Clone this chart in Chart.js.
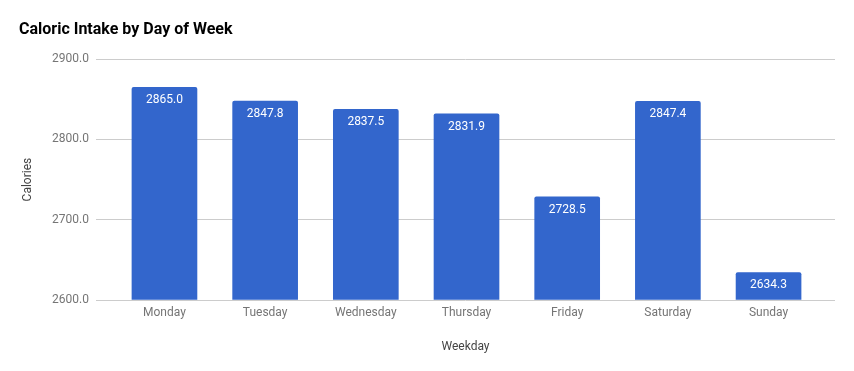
<!DOCTYPE html>
<html>
<head>
<meta charset="utf-8">
<script src="https://cdn.jsdelivr.net/npm/chart.js@4.4.1/dist/chart.umd.min.js"></script>
<style>
html,body{margin:0;padding:0;background:#fff;}
#wrap{width:854px;height:371px;position:relative;}
</style>
</head>
<body>
<div id="wrap"><canvas id="c" width="854" height="371"></canvas></div>
<script>
const categories = ["Monday","Tuesday","Wednesday","Thursday","Friday","Saturday","Sunday"];
const calories = [2865.0, 2847.8, 2837.5, 2831.9, 2728.5, 2847.4, 2634.3];
const yTicks = [2600, 2700, 2800, 2900];

const FONT = "Roboto";

const valueLabels = {
  id: 'valueLabels',
  afterDatasetsDraw(chart) {
    const ctx = chart.ctx;
    const meta = chart.getDatasetMeta(0);
    ctx.save();
    ctx.fillStyle = '#ffffff';
    ctx.font = '12px ' + FONT;
    ctx.textAlign = 'center';
    ctx.textBaseline = 'middle';
    meta.data.forEach((bar, i) => {
      ctx.fillText(calories[i].toFixed(1), bar.x, bar.y + 13);
    });
    ctx.restore();
  }
};

new Chart(document.getElementById('c'), {
  type: 'bar',
  data: {
    datasets: [{
      data: categories.map((c, i) => ({x: i, y: calories[i]})),
      backgroundColor: '#3366cc',
      borderRadius: 2,
      borderSkipped: 'bottom',
      barThickness: 65,
      base: 2600
    }]
  },
  options: {
    responsive: false,
    animation: false,
    devicePixelRatio: 1,
    layout: {padding: {left: 19, right: 19, top: 0, bottom: 0}},
    plugins: {
      legend: {display: false},
      tooltip: {enabled: false},
      title: {
        display: true,
        text: 'Caloric Intake by Day of Week',
        align: 'start',
        color: '#000000',
        font: {family: FONT, size: 16, weight: 'bold'},
        padding: {top: 20, bottom: 20}
      }
    },
    scales: {
      x: {
        type: 'linear',
        min: -0.68,
        max: 6.66,
        offset: false,
        grid: {display: false, drawTicks: false},
        border: {display: false},
        afterBuildTicks: s => { s.ticks = categories.map((c, i) => ({value: i})); },
        afterFit: s => { s.height = 71; },
        ticks: {
          padding: 6,
          color: '#757575',
          font: {family: FONT, size: 12},
          maxRotation: 0,
          autoSkip: false,
          callback: v => categories[v]
        },
        title: {
          display: true,
          text: 'Weekday',
          color: '#444444',
          font: {family: FONT, size: 12},
          padding: {top: 0, bottom: 17}
        }
      },
      y: {
        min: 2600,
        max: 2900,
        grid: {color: '#cccccc', drawTicks: false, lineWidth: 1},
        border: {display: false},
        afterBuildTicks: s => { s.ticks = yTicks.map(v => ({value: v})); },
        afterFit: s => { s.width = 77; },
        ticks: {
          padding: 7,
          color: '#757575',
          font: {family: FONT, size: 12},
          callback: v => Number(v).toFixed(1)
        },
        title: {
          display: true,
          text: 'Calories',
          color: '#444444',
          font: {family: FONT, size: 12},
          padding: {top: 2, bottom: 0}
        }
      }
    }
  },
  plugins: [valueLabels]
});
</script>
</body>
</html>
